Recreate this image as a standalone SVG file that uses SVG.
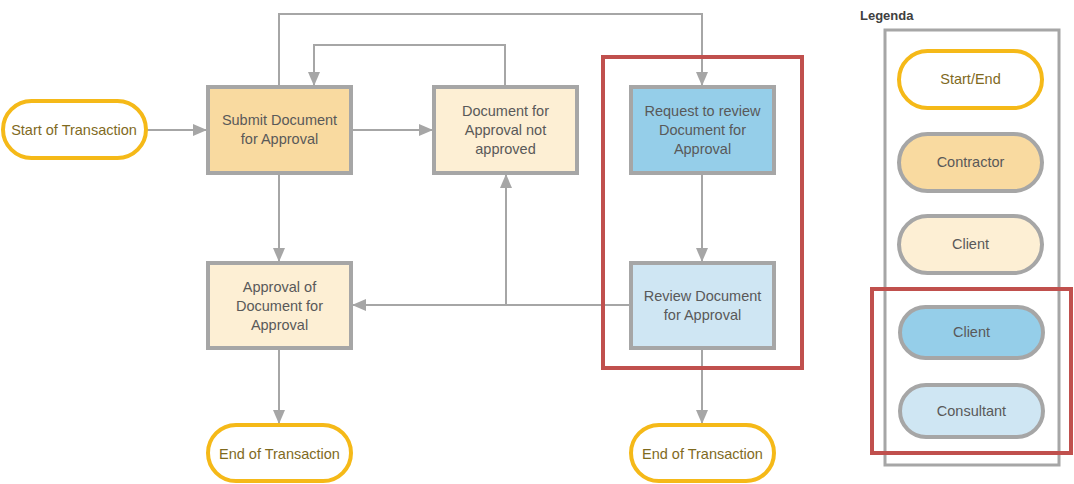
<svg xmlns="http://www.w3.org/2000/svg" width="1074" height="484" viewBox="0 0 1074 484">
<style>
.term{fill:#ffffff;stroke:#f5b918;stroke-width:4}
.box{stroke:#a6a6a6;stroke-width:4}
.contr{fill:#f9daa0}
.cli{fill:#fdefd4}
.cliB{fill:#95cee9}
.cons{fill:#cfe6f3}
.red{fill:none;stroke:#c0504d;stroke-width:4}
.conn{fill:none;stroke:#a6a6a6;stroke-width:2}
text{font-family:"Liberation Sans",Arial,sans-serif;font-size:14.5px;text-anchor:middle;fill:#595959}
.tt{fill:#7f6a1e}
</style>
<defs>
<marker id="arr" markerUnits="userSpaceOnUse" markerWidth="14" markerHeight="14" viewBox="0 0 14 14" refX="14" refY="7" orient="auto">
<path d="M0,1 L14,7 L0,13 Z" fill="#a6a6a6"/>
</marker>
</defs>
<g id="connectors">
<line class="conn" x1="146" y1="130" x2="207" y2="130" marker-end="url(#arr)"/>
<line class="conn" x1="351" y1="130" x2="433" y2="130" marker-end="url(#arr)"/>
<polyline class="conn" points="279,87 279,14 702,14 702,86" marker-end="url(#arr)"/>
<polyline class="conn" points="505,87 505,45 314,45 314,86" marker-end="url(#arr)"/>
<line class="conn" x1="279" y1="173" x2="279" y2="262" marker-end="url(#arr)"/>
<line class="conn" x1="702" y1="173" x2="702" y2="262" marker-end="url(#arr)"/>
<line class="conn" x1="631" y1="305" x2="352" y2="305" marker-end="url(#arr)"/>
<polyline class="conn" points="506,305 506,174" marker-end="url(#arr)"/>
<line class="conn" x1="279" y1="348" x2="279" y2="424" marker-end="url(#arr)"/>
<line class="conn" x1="702" y1="348" x2="702" y2="424" marker-end="url(#arr)"/>
</g>
<g id="start">
<rect class="term" x="3" y="101" width="143" height="57" rx="28.5"/>
<text class="tt" x="74" y="135">Start of Transaction</text>
</g>
<g id="submit">
<rect class="box contr" x="208" y="87" width="143" height="86"/>
<text x="279.5" y="125">Submit Document</text>
<text x="279.5" y="144">for Approval</text>
</g>
<g id="notapproved">
<rect class="box cli" x="434" y="87" width="143" height="86"/>
<text x="505.5" y="115.5">Document for</text>
<text x="505.5" y="134.5">Approval not</text>
<text x="505.5" y="153.5">approved</text>
</g>
<g id="request">
<rect class="box cliB" x="631" y="87" width="143" height="86"/>
<text x="702.5" y="115.5">Request to review</text>
<text x="702.5" y="134.5">Document for</text>
<text x="702.5" y="153.5">Approval</text>
</g>
<g id="approval">
<rect class="box cli" x="208" y="263" width="143" height="85"/>
<text x="279.5" y="291.5">Approval of</text>
<text x="279.5" y="310.5">Document for</text>
<text x="279.5" y="329.5">Approval</text>
</g>
<g id="review">
<rect class="box cons" x="631" y="263" width="143" height="85"/>
<text x="702.5" y="301">Review Document</text>
<text x="702.5" y="320">for Approval</text>
</g>
<g id="end1">
<rect class="term" x="208" y="425" width="143" height="56" rx="28"/>
<text class="tt" x="279.5" y="458.5">End of Transaction</text>
</g>
<g id="end2">
<rect class="term" x="631" y="425" width="143" height="56" rx="28"/>
<text class="tt" x="702.5" y="458.5">End of Transaction</text>
</g>
<g id="redgroup">
<rect class="red" x="603" y="57" width="199" height="311"/>
</g>
<g id="legend">
<text x="860" y="20" style="text-anchor:start;font-weight:bold;font-size:13px;fill:#404040">Legenda</text>
<rect x="885" y="30" width="174" height="435" fill="none" stroke="#a6a6a6" stroke-width="3"/>
<g id="leg-startend">
<rect class="term" x="899" y="51" width="143" height="57" rx="28.5"/>
<text class="tt" x="970.5" y="84">Start/End</text>
</g>
<g id="leg-contractor">
<rect class="box contr" x="899" y="134" width="143" height="57" rx="28.5"/>
<text x="970.5" y="167">Contractor</text>
</g>
<g id="leg-client">
<rect class="box cli" x="899" y="216" width="143" height="57" rx="28.5"/>
<text x="970.5" y="249">Client</text>
</g>
<g id="leg-clientblue">
<rect class="box cliB" x="900" y="307" width="143" height="51" rx="25.5"/>
<text x="971.5" y="337">Client</text>
</g>
<g id="leg-consultant">
<rect class="box cons" x="900" y="385" width="143" height="52" rx="26"/>
<text x="971.5" y="416">Consultant</text>
</g>
<rect class="red" x="872" y="289" width="199" height="164"/>
</g>
</svg>
